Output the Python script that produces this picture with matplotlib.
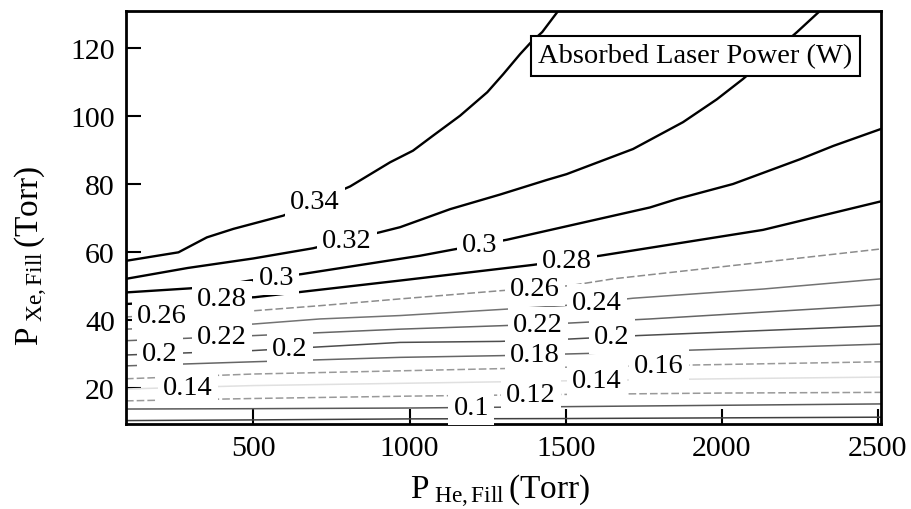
import numpy as np
import matplotlib.pyplot as plt

plt.rcParams['font.family'] = 'Liberation Serif'
plt.rcParams['mathtext.fontset'] = 'custom'
plt.rcParams['mathtext.rm'] = 'Liberation Serif'
plt.rcParams['mathtext.it'] = 'Liberation Serif:italic'

# Contour traces: He fill pressure (x) and Xe fill pressure (y), Torr
he_034 = [92, 260, 351, 436, 596, 810, 938, 1011, 1075, 1162, 1249, 1300, 1354, 1386, 1425, 1466, 1480]
xe_034 = [57.5, 60.0, 64.4, 66.9, 70.8, 79.4, 86.5, 89.9, 94.3, 100.2, 107.1, 112.4, 118.3, 121.5, 124.8, 129.8, 131.5]

he_032 = [92, 290, 500, 691, 905, 970, 1130, 1290, 1440, 1503, 1716, 1876, 1984, 2068, 2150, 2241, 2320]
xe_032 = [52.2, 55.4, 58.2, 61.2, 65.9, 67.4, 72.7, 77.0, 81.3, 83.0, 90.4, 98.3, 105.0, 111.0, 117.5, 124.8, 131.5]

he_030 = [92, 297, 393, 489, 655, 1034, 1139, 1312, 1770, 1857, 2036, 2251, 2357, 2510]
xe_030 = [48.2, 49.4, 50.2, 51.7, 53.6, 59.0, 60.8, 63.7, 73.2, 75.7, 80.1, 87.4, 91.3, 96.3]

he_028 = [92, 505, 970, 1395, 1610, 2132, 2510]
xe_028 = [44.8, 46.8, 51.7, 56.3, 59.0, 66.6, 75.0]

he_026 = [92, 500, 713, 970, 1290, 1514, 1652, 2132, 2510]
xe_026 = [41.0, 42.8, 44.3, 46.3, 48.7, 50.2, 52.2, 57.1, 61.0]

he_024 = [92, 500, 713, 970, 1492, 1716, 2132, 2510]
xe_024 = [37.4, 38.9, 40.4, 41.4, 44.3, 46.5, 49.2, 52.2]

he_022 = [92, 500, 970, 1290, 1514, 1770, 2132, 2510]
xe_022 = [34.0, 35.5, 37.4, 38.4, 39.2, 40.4, 42.4, 44.5]

he_020 = [92, 500, 970, 1290, 1514, 1729, 2132, 2510]
xe_020 = [29.8, 31.1, 33.5, 33.8, 34.5, 35.5, 37.0, 38.4]

he_018 = [92, 500, 970, 1290, 1507, 1716, 1857, 2510]
xe_018 = [26.6, 27.8, 29.1, 29.6, 30.1, 30.6, 31.1, 33.0]

he_low = [92, 500, 1000, 1500, 2000, 2510]
xe_016 = [22.8, 24.2, 25.2, 26.2, 27.0, 27.8]
xe_014 = [19.8, 20.8, 21.5, 22.2, 22.8, 23.3]
xe_012 = [16.3, 17.0, 17.7, 18.2, 18.6, 18.8]
xe_010 = [13.9, 14.0, 14.2, 14.6, 15.0, 15.4]
xe_008 = [10.5, 10.7, 11.0, 11.1, 11.3, 11.5]

levels = [0.34, 0.32, 0.30, 0.28, 0.26, 0.24, 0.22, 0.20, 0.18, 0.16, 0.14, 0.12, 0.10, 0.08]
traces = [(he_034, xe_034), (he_032, xe_032), (he_030, xe_030), (he_028, xe_028),
          (he_026, xe_026), (he_024, xe_024), (he_022, xe_022), (he_020, xe_020),
          (he_018, xe_018), (he_low, xe_016), (he_low, xe_014), (he_low, xe_012),
          (he_low, xe_010), (he_low, xe_008)]

# where each contour gets its inline value label (He pressure along the line)
label_spots = [(0.34, 697), (0.32, 800), (0.30, 573), (0.30, 1226), (0.28, 400),
               (0.28, 1504), (0.26, 208), (0.26, 1402), (0.24, 1601), (0.22, 400),
               (0.22, 1412), (0.20, 201), (0.20, 617), (0.20, 1649), (0.18, 1402),
               (0.16, 1799), (0.14, 291), (0.14, 1601), (0.12, 1389), (0.10, 1198)]

# low-power contours come out grey and broken
grey = {0.26: '0.55', 0.24: '0.45', 0.22: '0.4', 0.20: '0.3', 0.18: '0.4',
        0.16: '0.6', 0.14: '0.88', 0.12: '0.6', 0.10: '0.35', 0.08: '0.25'}
dashed = {0.26, 0.16, 0.12}

fig = plt.figure(figsize=(9.11, 5.10), dpi=100)
ax = fig.add_axes([0.1383, 0.1667, 0.8288, 0.8098])

lines = {}
for lev, (xs, ys) in zip(levels, traces):
    lines[lev] = (xs, ys)
    if lev >= 0.28:
        ax.plot(xs, ys, color='black', lw=1.7, zorder=2)
    else:
        ls = (0, (5, 2)) if lev in dashed else '-'
        ax.plot(xs, ys, color=grey[lev], lw=1.1, ls=ls, zorder=2)

for lev, x in label_spots:
    xs, ys = lines[lev]
    y = np.interp(x, xs, ys)
    ax.text(x, y, f'{lev:g}', fontsize=20.5, ha='center', va='center', zorder=3,
            bbox=dict(boxstyle='square,pad=0.18', fc='white', ec='none'))

ax.text(0.754, 0.891, 'Absorbed Laser Power (W)', transform=ax.transAxes,
        fontsize=20.5, ha='center', va='center', zorder=4,
        bbox=dict(boxstyle='square,pad=0.25', fc='white', ec='black', lw=1.5))

ax.set_xlim(92, 2510)
ax.set_ylim(9.5, 131)
ax.set_xticks([500, 1000, 1500, 2000, 2500])
ax.set_yticks([20, 40, 60, 80, 100, 120])
ax.tick_params(direction='in', length=10.5, width=1.5, labelsize=21.5, pad=8)
for sp in ax.spines.values():
    sp.set_linewidth(2.0)

ax.set_xlabel(r'$\mathrm{P}_{\mathrm{\ He,Fill}}\,\mathrm{(Torr)}$', fontsize=24)
ax.set_ylabel(r'$\mathrm{P}_{\mathrm{\ Xe,Fill}}\,\mathrm{(Torr)}$', fontsize=24)
ax.xaxis.set_label_coords(0.495, -0.115)
ax.yaxis.set_label_coords(-0.1, 0.41)

fig.savefig('out.png', dpi=100)
